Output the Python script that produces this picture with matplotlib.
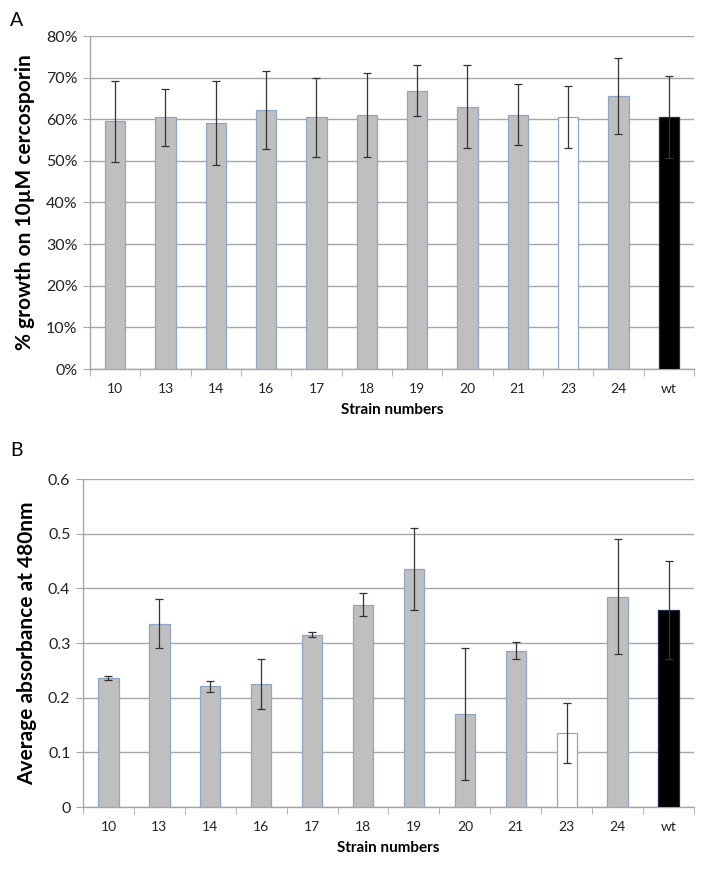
import matplotlib
matplotlib.use("Agg")
import matplotlib.pyplot as plt
import numpy as np
from matplotlib.ticker import FixedLocator

strains = ["10", "13", "14", "16", "17", "18", "19", "20", "21", "23", "24", "wt"]

growth_pct = [59.5, 60.5, 59.1, 62.2, 60.5, 61.1, 66.9, 63.0, 61.1, 60.5, 65.5, 60.5]
growth_err = [9.75, 6.85, 10.2, 9.45, 9.45, 10.1, 6.2, 10.0, 7.3, 7.5, 9.15, 9.9]

absorb = [0.236, 0.335, 0.221, 0.225, 0.315, 0.370, 0.435, 0.170, 0.286, 0.135, 0.385, 0.360]
absorb_err = [0.0045, 0.045, 0.010, 0.045, 0.0045, 0.021, 0.075, 0.120, 0.015, 0.055, 0.105, 0.090]

face_colors = ["#bfbfbf"] * 10 + ["#bfbfbf", "#000000"]
face_colors[9] = "#ffffff"
edge_colors = ["#8ea5c6"] * 11 + ["#1f2f4a"]

plt.rcParams['font.family'] = ['Lato', 'DejaVu Sans']

fig = plt.figure(figsize=(7.13, 8.71), dpi=100)
W, H = 713, 871

def make_ax(left, top, right, bottom):
    return fig.add_axes([left / W, 1 - bottom / H, (right - left) / W, (bottom - top) / H])

axA = make_ax(90, 36, 694, 369)
axB = make_ax(83, 479, 694, 807)

def style(ax, vals, errs, ymax, step, fmt, ylabel):
    x = np.arange(len(strains))
    ax.bar(x, vals, width=0.4, color=face_colors, edgecolor=edge_colors, linewidth=0.9, zorder=3)
    ax.errorbar(x, vals, yerr=errs, fmt='none', ecolor='#333333', elinewidth=0.9,
                capsize=3, capthick=0.9, zorder=4)
    ax.set_xlim(-0.5, len(strains) - 0.5)
    ax.set_ylim(0, ymax)
    ticks = np.arange(0, ymax + step / 2, step)
    ax.set_yticks(ticks)
    ax.set_yticklabels([fmt(t) for t in ticks], fontsize=11.5, color='#222222')
    ax.yaxis.grid(True, color='#a6a6a6', linewidth=1.0, zorder=0)
    ax.set_axisbelow(True)
    ax.set_xticks(x)
    ax.set_xticklabels(strains, fontsize=10, color='#222222')
    ax.xaxis.set_minor_locator(FixedLocator(np.arange(-0.5, len(strains), 1.0)))
    ax.tick_params(axis='x', which='major', length=0, pad=10)
    ax.tick_params(axis='x', which='minor', length=5, color='#a6a6a6', direction='out')
    ax.tick_params(axis='y', length=5, color='#a6a6a6', direction='out', pad=4)
    for s in ['top', 'right']:
        ax.spines[s].set_visible(False)
    for s in ['left', 'bottom']:
        ax.spines[s].set_color('#a6a6a6')
        ax.spines[s].set_linewidth(1.0)
    ax.set_xlabel("Strain numbers", fontsize=11, fontweight='bold', labelpad=6)
    ax.set_ylabel(ylabel, fontsize=15, fontweight='bold', labelpad=8)

style(axA, growth_pct, growth_err, 80, 10, lambda t: f"{int(round(t))}%",
      "% growth on 10\u00b5M cercosporin")
style(axB, absorb, absorb_err, 0.6, 0.1,
      lambda t: "0" if abs(t) < 1e-9 else f"{t:.1f}",
      "Average absorbance at 480nm")

fig.text(10 / W, 1 - 20 / H, "A", fontsize=14, va='center', ha='left')
fig.text(10 / W, 1 - 450 / H, "B", fontsize=14, va='center', ha='left')

fig.savefig("out.png", dpi=100)
